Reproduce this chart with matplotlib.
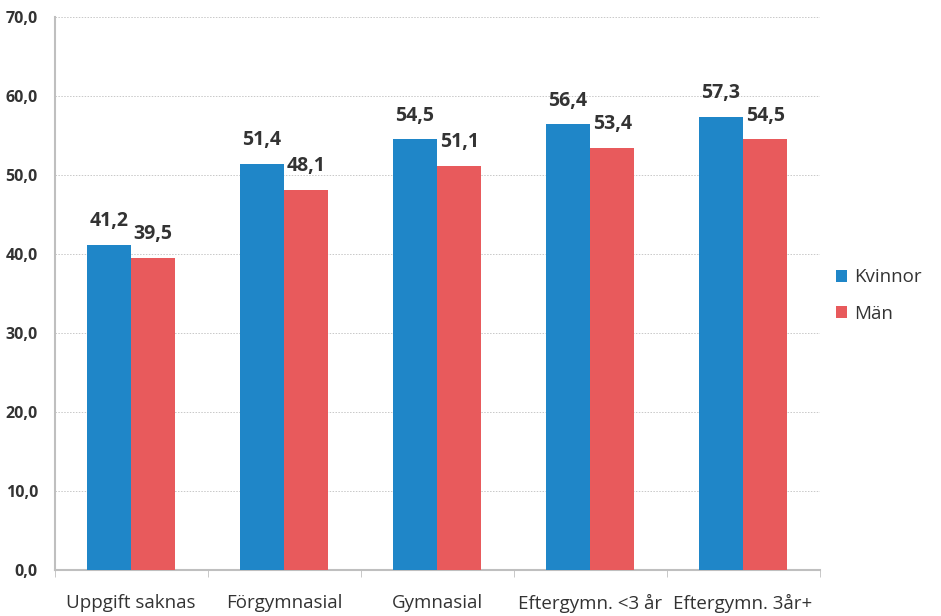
import matplotlib
matplotlib.use("Agg")
import matplotlib.pyplot as plt
import numpy as np

categories = ["Uppgift saknas", "Förgymnasial", "Gymnasial", "Eftergymn. <3 år", "Eftergymn. 3år+"]
kvinnor = [41.2, 51.4, 54.5, 56.4, 57.3]
man = [39.5, 48.1, 51.1, 53.4, 54.5]
yticks = [0, 10, 20, 30, 40, 50, 60, 70]

blue = "#1F86C8"
red = "#E85A5C"
txt = "#333333"
plt.rcParams["font.family"] = ["Open Sans", "DejaVu Sans"]

fig = plt.figure(figsize=(9.41, 6.16), dpi=100)
ax = fig.add_axes([0.058, 0.0747, 0.813, 0.8977])

x = np.arange(len(categories))
w = 0.29
b1 = ax.bar(x - w / 2, kvinnor, w, color=blue, label="Kvinnor", zorder=3)
b2 = ax.bar(x + w / 2, man, w, color=red, label="Män", zorder=3)

for bars, vals in ((b1, kvinnor), (b2, man)):
    for r, v in zip(bars, vals):
        ax.annotate(f"{v:.1f}".replace(".", ","), (r.get_x() + r.get_width() / 2, v),
                    xytext=(0, 10), textcoords="offset points", ha="center", va="bottom",
                    fontsize=14, fontweight="bold", color=txt)

ax.set_xlim(-0.5, len(categories) - 0.5)
ax.set_ylim(0, 70)
ax.set_yticks(yticks)
ax.set_yticklabels([f"{t},0" for t in yticks], fontsize=11.5, fontweight="bold", color=txt)
ax.tick_params(axis="y", length=0, pad=12)

ax.set_xticks(x)
ax.set_xticklabels(categories, fontsize=13.5, color=txt)
ax.set_xticks(np.arange(len(categories) + 1) - 0.5, minor=True)
ax.tick_params(axis="x", which="major", length=0, pad=17)
ax.tick_params(axis="x", which="minor", length=5, color="#BFBFBF")

ax.grid(axis="y", linestyle=(0, (1.5, 1.5)), color="#C8C8C8", linewidth=0.7, zorder=0)
for s in ("top", "right"):
    ax.spines[s].set_visible(False)
for s in ("left", "bottom"):
    ax.spines[s].set_color("#BFBFBF")
    ax.spines[s].set_linewidth(1.5)

leg = fig.legend(handles=[b1, b2], loc="center left", bbox_to_anchor=(0.87, 0.52),
                 frameon=False, fontsize=13.5, handlelength=0.6, handleheight=0.6,
                 handletextpad=0.4, labelspacing=1.0)
for t in leg.get_texts():
    t.set_color(txt)

fig.savefig("out.png", dpi=100)
